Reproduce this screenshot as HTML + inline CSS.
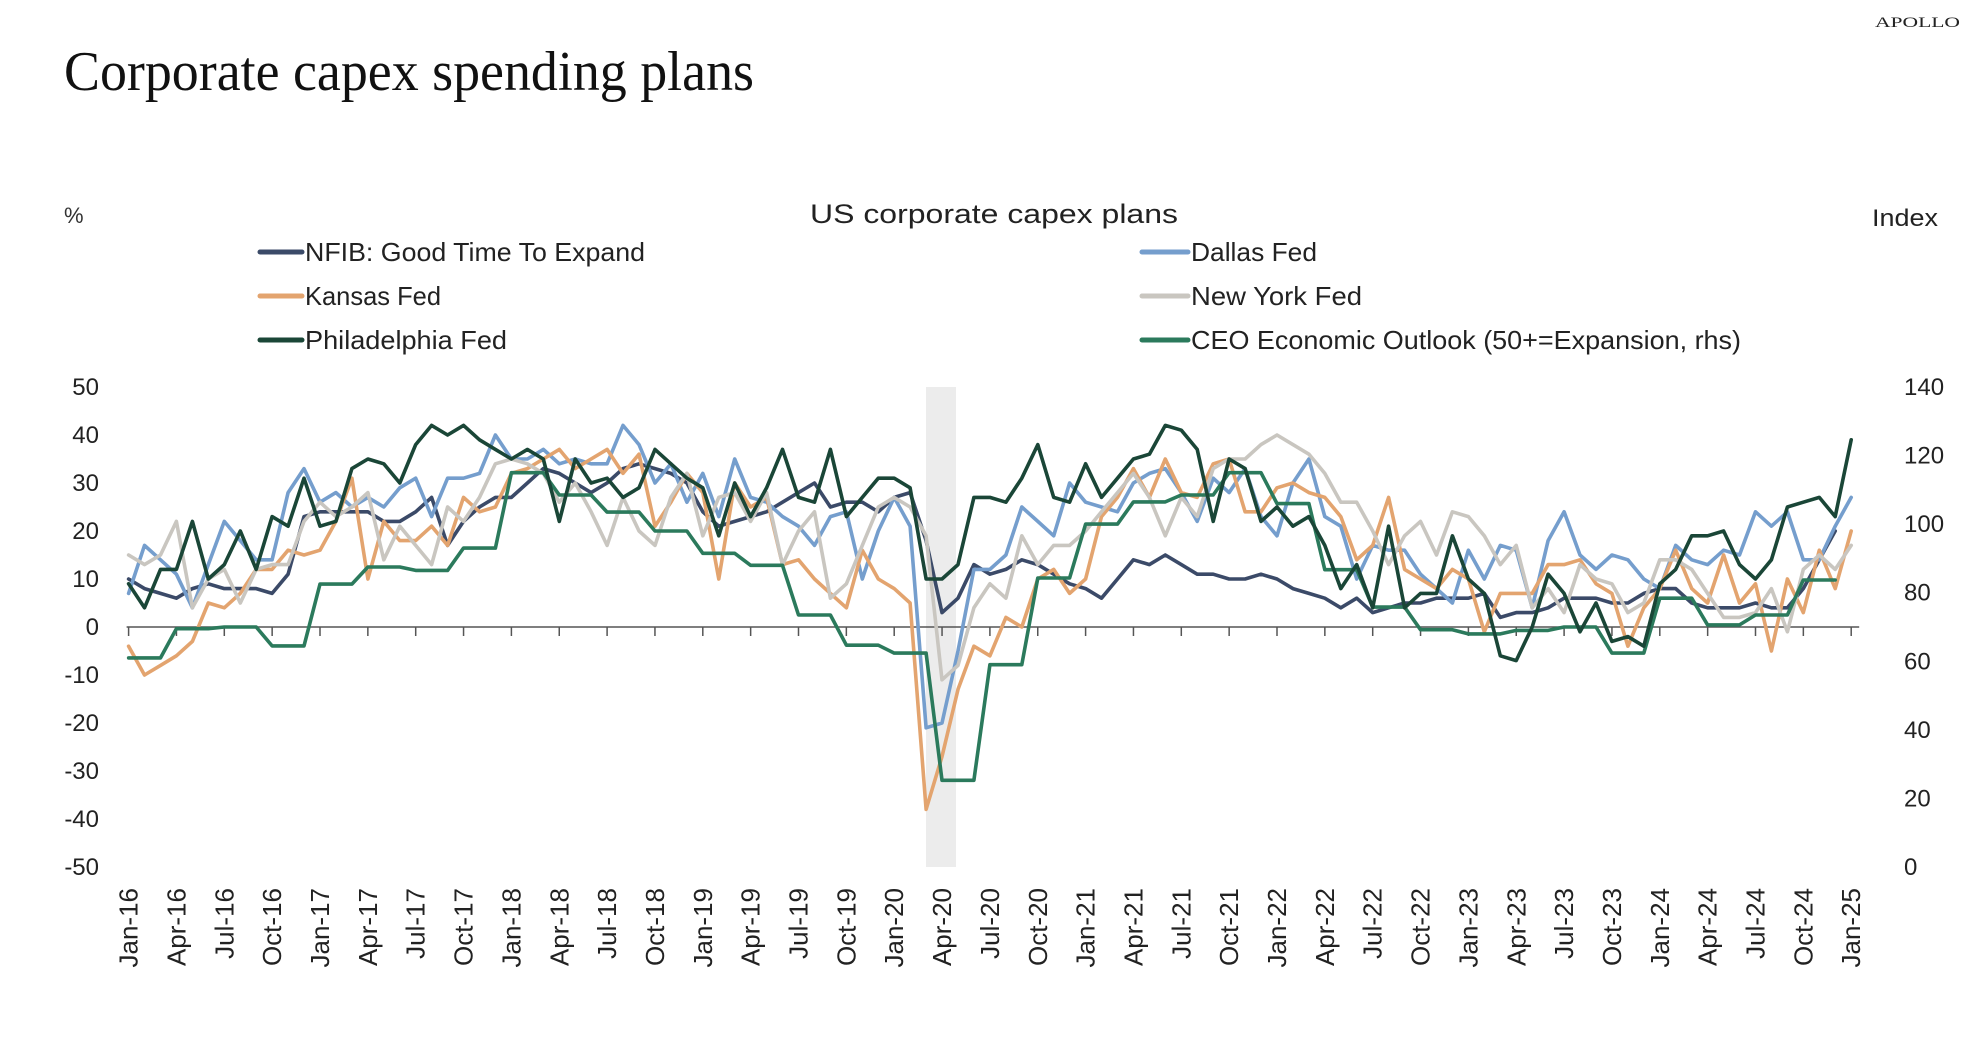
<!DOCTYPE html>
<html><head><meta charset="utf-8"><style>
html,body{margin:0;padding:0;background:#fff;}
svg{display:block;}
</style></head><body>
<svg id="chart" width="1978" height="1056" viewBox="0 0 1978 1056" xmlns="http://www.w3.org/2000/svg" font-family="'Liberation Sans', sans-serif">
<text x="64" y="90" font-family="'Liberation Serif', serif" font-size="56" fill="#111" textLength="690" lengthAdjust="spacingAndGlyphs">Corporate capex spending plans</text>
<text x="1875" y="27" font-family="'Liberation Serif', serif" font-size="15" fill="#222" textLength="85" lengthAdjust="spacingAndGlyphs">APOLLO</text>
<text x="810" y="223" font-size="27" fill="#222" textLength="368" lengthAdjust="spacingAndGlyphs">US corporate capex plans</text>
<text x="64" y="223" font-size="22" fill="#333">%</text>
<text x="1872" y="226" font-size="24" fill="#222" textLength="66" lengthAdjust="spacingAndGlyphs">Index</text>
<g id="legend"></g>
<rect x="926" y="387" width="30" height="480" fill="#ececec"/>
<g id="axes"></g>
<g id="series"></g>
</svg>
<script>
const months = ["Jan","Feb","Mar","Apr","May","Jun","Jul","Aug","Sep","Oct","Nov","Dec"];
const startYear = 2016;
const nPoints = 109;
const leftTicks = [50,40,30,20,10,0,-10,-20,-30,-40,-50];
const rightTicks = [140,120,100,80,60,40,20,0];
const nfib = [10,8,7,6,8,9,8,8,8,7,11,23, 24,24,24,24,22,22,24,27,17,22,25,27, 27,30,33,32,30,28,30,33,34,33,32,30, 24,21,22,23,24,26,28,30,25,26,26,24, 27,28,18,3,6,13,11,12,14,13,11,9, 8,6,10,14,13,15,13,11,11,10,10,11, 10,8,7,6,4,6,3,4,5,5,6,6, 6,7,2,3,3,4,6,6,6,5,5,7, 8,8,5,4,4,4,5,4,4,8,14,20,null];
const dallas = [7,17,14,11,4,13,22,18,14,14,28,33, 26,28,25,27,25,29,31,23,31,31,32,40, 35,35,37,34,35,34,34,42,38,30,34,26, 32,23,35,27,26,23,21,17,23,24,10,20, 27,21,-21,-20,-5,12,12,15,25,22,19,30, 26,25,24,30,32,33,28,22,31,28,33,23, 19,30,35,23,21,10,17,16,16,11,8,5, 16,10,17,16,4,18,24,15,12,15,14,10, 8,17,14,13,16,15,24,21,24,14,14,21,27];
const kansas = [-4,-10,-8,-6,-3,5,4,7,12,12,16,15, 16,22,31,10,22,18,18,21,17,27,24,25, 32,33,35,37,33,35,37,32,36,21,26,32, 28,10,30,25,27,13,14,10,7,4,16,10, 8,5,-38,-27,-13,-4,-6,2,0,10,12,7, 10,23,27,33,27,35,28,27,34,35,24,24, 29,30,28,27,23,14,17,27,12,10,8,12, 10,-1,7,7,7,13,13,14,9,7,-4,4, 8,16,8,5,15,5,9,-5,10,3,16,8,20];
const newYork = [15,13,15,22,4,10,12,5,12,13,13,22, 26,23,25,28,14,21,17,13,25,22,27,34, 35,34,32,26,30,24,17,27,20,17,27,32, 19,27,28,22,28,13,20,24,6,9,17,25, 27,25,19,-11,-8,4,9,6,19,13,17,17, 20,24,28,32,27,19,27,23,33,35,35,38, 40,38,36,32,26,26,20,13,19,22,15,24, 23,19,13,17,4,8,3,13,10,9,3,5, 14,14,12,7,2,2,3,8,-1,12,15,12,17];
const philly = [9,4,12,12,22,10,13,20,12,23,21,31, 21,22,33,35,34,30,38,42,40,42,39,37, 35,37,35,22,35,30,31,27,29,37,34,31, 29,19,30,23,29,37,27,26,37,23,27,31, 31,29,10,10,13,27,27,26,31,38,27,26, 34,27,31,35,36,42,41,37,22,35,33,22, 25,21,23,17,8,13,4,21,4,7,7,19, 10,7,-6,-7,0,11,7,-1,5,-3,-2,-4, 9,12,19,19,20,13,10,14,25,26,27,23,39];
const ceo = [61,61,61,69.5,69.5,69.5,70,70,70,64.5,64.5,64.5, 82.5,82.5,82.5,87.5,87.5,87.5,86.5,86.5,86.5,93,93,93, 115,115,115,108.5,108.5,108.5,103.5,103.5,103.5,98,98,98, 91.5,91.5,91.5,88,88,88,73.5,73.5,73.5,64.7,64.7,64.7, 62.4,62.4,62.4,25.3,25.3,25.3,59,59,59,84.3,84.3,84.3, 100,100,100,106.5,106.5,106.5,108.5,108.5,108.5,115,115,115, 106,106,106,86.7,86.7,86.7,75.8,75.8,75.8,69.2,69.2,69.2, 68,68,68,69,69,69,70,70,70,62.4,62.4,62.4, 78.4,78.4,78.4,70.6,70.6,70.6,73.5,73.5,73.5,83.7,83.7,83.7,null];

const NS = "http://www.w3.org/2000/svg";
const X0 = 128.6, DX = 15.95, Y0 = 627, YTOP = 387, YBOT = 867;
function xS(i){ return X0 + i*DX; }
function yL(v){ return Y0 - v*(YBOT-YTOP)/100; }
function yR(v){ return YBOT - v*(YBOT-YTOP)/140; }
function mk(tag, attrs, parent){ const e=document.createElementNS(NS,tag); for(const k in attrs) e.setAttribute(k,attrs[k]); parent.appendChild(e); return e; }

const axes = document.getElementById('axes');
const xAxis = mk('line',{x1:xS(0)-2,x2:xS(nPoints-1)+8,y1:Y0,y2:Y0,stroke:'#555','stroke-width':1.5},axes);


for(let i=0;i<nPoints;i+=3){
  const t = mk('line',{x1:xS(i),x2:xS(i),y1:Y0,y2:Y0+9,stroke:'#555','stroke-width':1.5},axes);
  
  
  const lab = months[i%12]+'-'+String((startYear+Math.floor(i/12))%100).padStart(2,'0');
  const tx = xS(i)+9, ty = 888;
  const tl = mk('text',{x:tx,y:ty,'font-size':26,fill:'#222','text-anchor':'end',transform:'rotate(-90 '+tx+' '+ty+')'},axes);
  tl.textContent = lab;
  
  
}
leftTicks.forEach(v=>{
  const t = mk('text',{x:99,y:yL(v)+8,'font-size':24,fill:'#222','text-anchor':'end'},axes);
  t.textContent = v;
  
  
});
rightTicks.forEach(v=>{
  const t = mk('text',{x:1904,y:yR(v)+8,'font-size':24,fill:'#222'},axes);
  t.textContent = v;
  
  
});

const seriesG = document.getElementById('series');
function drawLine(data, yf, color, name){
  let d='';
  let pen=false;
  data.forEach((v,i)=>{
    if(v===null||v===undefined){pen=false;return;}
    d += (pen?'L':'M') + xS(i).toFixed(1) + ' ' + yf(v).toFixed(1) + ' ';
    pen=true;
  });
  const p = mk('path',{d:d,fill:'none',stroke:color,'stroke-width':3.6,'stroke-linejoin':'round','stroke-linecap':'round'},seriesG);
  
  
}
drawLine(nfib, yL, '#3b4a68', 'nfib-line');
drawLine(dallas, yL, '#759ecd', 'dallas-fed-line');
drawLine(kansas, yL, '#e3a46f', 'kansas-fed-line');
drawLine(newYork, yL, '#c9c6c0', 'new-york-fed-line');
drawLine(ceo, yR, '#2b7a5c', 'ceo-outlook-line');
drawLine(philly, yL, '#1a4637', 'philadelphia-fed-line');

const legend = document.getElementById('legend');
const legendItems = [
  ['NFIB: Good Time To Expand','#3b4a68',260,305,252,340,'legend-nfib'],
  ['Kansas Fed','#e3a46f',260,305,296,136,'legend-kansas-fed'],
  ['Philadelphia Fed','#1a4637',260,305,340,202,'legend-philadelphia-fed'],
  ['Dallas Fed','#759ecd',1142,1191,252,126,'legend-dallas-fed'],
  ['New York Fed','#c9c6c0',1142,1191,296,171,'legend-new-york-fed'],
  ['CEO Economic Outlook (50+=Expansion, rhs)','#2b7a5c',1142,1191,340,550,'legend-ceo-outlook']
];
legendItems.forEach(it=>{
  const g = mk('g',{},legend);
  
  
  mk('line',{x1:it[2],x2:it[3]-3,y1:it[4],y2:it[4],stroke:it[1],'stroke-width':5,'stroke-linecap':'round'},g);
  const t = mk('text',{x:it[3],y:it[4]+9,'font-size':26,fill:'#222',textLength:it[5],lengthAdjust:'spacingAndGlyphs'},g);
  t.textContent = it[0];
});
</script>
</body></html>
